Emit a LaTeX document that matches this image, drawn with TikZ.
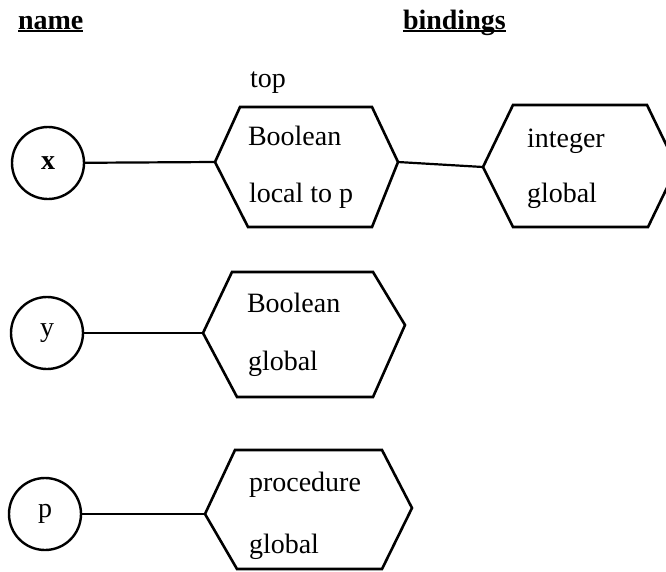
\documentclass[tikz,border=0pt]{standalone}
\usepackage{fontspec}
\setmainfont{Liberation Serif}
\begin{document}
\begin{tikzpicture}[x=1pt,y=-1pt,
  every node/.style={inner sep=0pt, outer sep=0pt, font=\fontsize{28}{34}\selectfont},
  head/.style={anchor=base west, font=\fontsize{28}{34}\selectfont\bfseries},
  uline/.style={line width=2pt},
  label/.style={anchor=base west},
  namecircle/.style={circle, draw, line width=2.4pt, minimum size=72pt},
  hexline/.style={line width=2.6pt, line join=miter},
  link/.style={line width=2.2pt}]
\useasboundingbox (0,0) rectangle (666,571);

% column headings
\node[head] (hname) at (18,29) {name};
\node[head] (hbind) at (403,29) {bindings};
\draw[uline] ([yshift=-1.5pt]hname.base west) -- ([yshift=-1.5pt]hname.base east);
\draw[uline] ([yshift=-1.5pt]hbind.base west) -- ([yshift=-1.5pt]hbind.base east);

% names
\node[namecircle] (nx) at (48,163) {\bfseries x};
\node[namecircle] (ny) at (47,333) {y};
\node[namecircle] (np) at (45,514) {p};

% binding of x: Boolean, local to p (top of the stack)
\node[label] (ttop) at (250,87) {top};
\draw[hexline] (240,107) -- (372,107) -- (398,162) coordinate (b1r)
  -- (372,227) -- (248,227) -- (215,162) coordinate (b1l) -- cycle;
\node[label] (b1a) at (248,145) {Boolean};
\node[label] (b1b) at (249,202) {local to p};

% binding of x: integer, global
\draw[hexline] (513,105) -- (647,105) -- (677,167) coordinate (b2r)
  -- (648,227) -- (513,227) -- (483,167) coordinate (b2l) -- cycle;
\node[label] (b2a) at (527,147) {integer};
\node[label] (b2b) at (527,202) {global};

% binding of y: Boolean, global
\draw[hexline] (232,272) -- (373,272) -- (405,325) coordinate (b3r)
  -- (373,397) -- (237,397) -- (203,333) coordinate (b3l) -- cycle;
\node[label] (b3a) at (247,312) {Boolean};
\node[label] (b3b) at (248,370) {global};

% binding of p: procedure, global
\draw[hexline] (235,450) -- (382,450) -- (412,508) coordinate (b4r)
  -- (382,569) -- (237,569) -- (205,514) coordinate (b4l) -- cycle;
\node[label] (b4a) at (249,491) {procedure};
\node[label] (b4b) at (249,553) {global};

% connectors
\draw[link] (nx) -- (b1l);
\draw[link] (b1r) -- (b2l);
\draw[link] (ny) -- (b3l);
\draw[link] (np) -- (b4l);
\end{tikzpicture}
\end{document}
